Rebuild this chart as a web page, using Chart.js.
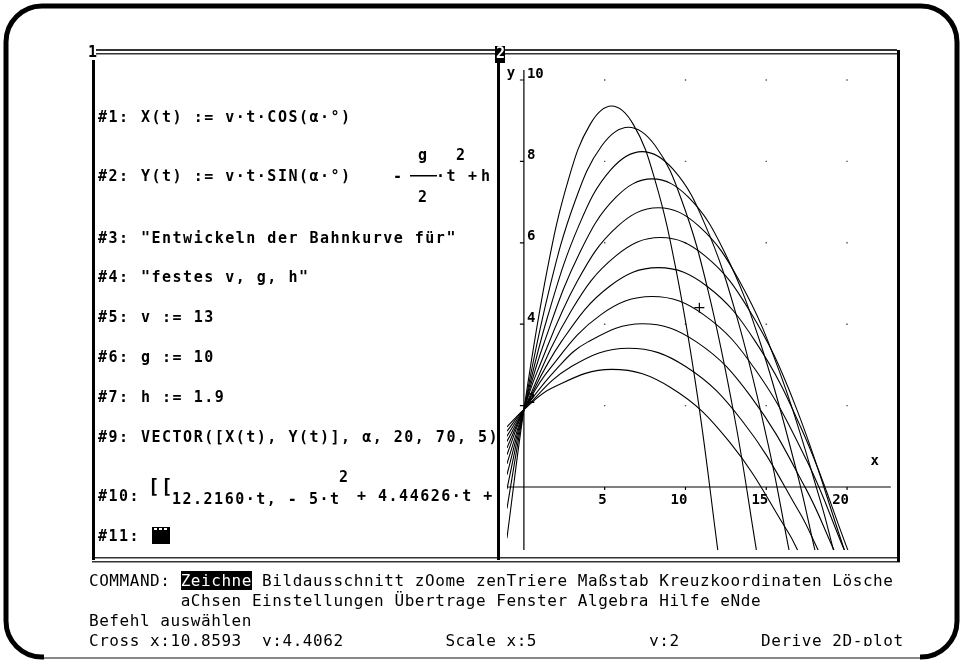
<!DOCTYPE html>
<html>
<head>
<meta charset="utf-8">
<script src="https://cdn.jsdelivr.net/npm/chart.js@4.4.1/dist/chart.umd.min.js"></script>
<style>
  body { margin: 0; background: #fff; width: 964px; height: 664px; position: relative; overflow: hidden; }
  canvas { position: absolute; }
  .alg { position: absolute; white-space: pre; font: bold 15px "DejaVu Sans Mono", monospace; letter-spacing: 1.5px; line-height: 15px; color: #000; }
  .cmd { position: absolute; white-space: pre; font: 16px "DejaVu Sans Mono", monospace; letter-spacing: 0.55px; line-height: 16px; color: #000; }
  .hi { background: #000; color: #fff; }
</style>
</head>
<body>
<canvas id="frame" width="964" height="664" style="left:0;top:0"></canvas>
<canvas id="plot" width="397" height="506" style="left:500px;top:52px"></canvas>
<div id="status" style="position:absolute;left:0;top:633px;width:964px;height:13px;overflow:hidden"></div>
<script>
// Bahnkurven fuer alpha = 20..70 (Schritt 5), v = 13, g = 10, h = 1.9
const angles = [20, 25, 30, 35, 40, 45, 50, 55, 60, 65, 70];

const x20 = [-1.05, 0, 1.77, 5.43, 9.10, 12.76, 16.43, 16.94];
const y20 = [1.48, 1.9, 2.44, 2.89, 2.44, 1.09, -1.16, -1.55];
const x25 = [-1.05, 0, 2.94, 6.47, 10.01, 13.54, 17.08, 18.21];
const y25 = [1.37, 1.9, 2.96, 3.41, 2.96, 1.61, -0.64, -1.55];
const x30 = [-1.05, 0, 1.97, 3.94, 7.32, 10.70, 14.07, 17.45, 19.19];
const y30 = [1.25, 1.9, 2.88, 3.56, 4.01, 3.56, 2.21, -0.04, -1.55];
const x35 = [-1.05, 0, 1.55, 4.75, 7.94, 11.14, 14.33, 17.53, 19.83];
const y35 = [1.12, 1.9, 2.88, 4.23, 4.68, 4.23, 2.88, 0.63, -1.55];
const x40 = [-1.05, 0, 2.35, 5.33, 8.32, 11.31, 14.30, 17.28, 20.05];
const y40 = [0.96, 1.9, 3.59, 4.94, 5.39, 4.94, 3.59, 1.34, -1.55];
const x45 = [-1.05, 0, 2.93, 5.69, 8.45, 11.21, 13.97, 16.72, 19.84];
const y45 = [0.79, 1.9, 4.33, 5.68, 6.13, 5.68, 4.33, 2.08, -1.55];
const x50 = [-1.05, 0, 0.80, 3.31, 5.81, 8.32, 10.83, 13.34, 15.84, 18.35, 19.16];
const y50 = [0.57, 1.9, 2.81, 5.06, 6.41, 6.86, 6.41, 5.06, 2.81, -0.34, -1.55];
const x55 = [-1.05, 0, 1.23, 3.47, 5.70, 7.94, 10.18, 12.42, 14.65, 16.89, 18.01];
const y55 = [0.30, 1.9, 3.52, 5.77, 7.12, 7.57, 7.12, 5.77, 3.52, 0.37, -1.55];
const x60 = [-1.05, 0, 1.47, 3.42, 5.37, 7.32, 9.27, 11.22, 13.17, 15.12, 16.41];
const y60 = [-0.05, 1.9, 4.19, 6.44, 7.79, 8.24, 7.79, 6.44, 4.19, 1.04, -1.55];
const x65 = [-1.05, 0, 1.53, 3.18, 4.83, 6.47, 8.12, 9.77, 11.42, 13.07, 14.39];
const y65 = [-0.53, 1.9, 4.79, 7.04, 8.39, 8.84, 8.39, 7.04, 4.79, 1.64, -1.55];
const x70 = [-1.05, 0, 1.43, 2.76, 4.10, 5.43, 6.77, 8.10, 9.43, 10.77, 12.00];
const y70 = [-1.26, 1.9, 5.31, 7.56, 8.91, 9.36, 8.91, 7.56, 5.31, 2.16, -1.55];

const xTicks = [5, 10, 15, 20];
const yTicks = [2, 4, 6, 8, 10];
const crossX = 10.8593;
const crossY = 4.4062;

const bahnen = [[x20, y20], [x25, y25], [x30, y30], [x35, y35], [x40, y40], [x45, y45],
                [x50, y50], [x55, y55], [x60, y60], [x65, y65], [x70, y70]];

// --- Rahmen (Derive-Fenster) ---
const f = document.getElementById('frame').getContext('2d');
f.lineWidth = 5;
f.strokeStyle = '#000';
f.beginPath();
f.roundRect(6, 6, 951, 651, 36);
f.stroke();
f.fillStyle = '#fff';
f.fillRect(44, 652, 876, 10);
f.fillStyle = '#888';
f.fillRect(44, 657, 876, 2);
f.fillStyle = '#333';
f.fillRect(96, 49, 801, 2);
f.fillRect(96, 53, 801, 1.5);
f.fillRect(92, 557, 808, 1.5);
f.fillRect(92, 561, 808, 1.5);
f.fillStyle = '#000';
f.fillRect(92, 60, 3, 500);
f.fillRect(497, 60, 3, 500);
f.fillRect(897, 50, 3, 512);
f.fillRect(495, 46, 10, 17);
f.font = 'bold 15px "DejaVu Sans Mono"';
f.textBaseline = 'middle';
f.fillText('1', 88, 53);
f.fillStyle = '#fff';
f.fillText('2', 496, 54);
f.fillStyle = '#000';
f.fillRect(410, 175, 27, 1.5);        // Bruchstrich in #2
f.fillRect(152, 527, 18, 17);        // Cursor #11
f.fillStyle = '#fff';
[154, 159, 164].forEach(px => f.fillRect(px, 528, 3, 2));

// --- Algebra-Fenster ---
function put(s, x, yc, cls, size, parent) {
  const d = document.createElement('div');
  d.className = cls;
  d.textContent = s;
  if (size) { d.style.fontSize = size + 'px'; d.style.lineHeight = size + 'px'; }
  d.style.left = x + 'px';
  d.style.top = (yc - 0.48 * (size || (cls === 'cmd' ? 16 : 15))) + 'px';
  (parent || document.body).appendChild(d);
  return d;
}
put('#1:', 98, 117, 'alg');  put('X(t) := v·t·COS(α·°)', 141, 117, 'alg');
put('#2:', 98, 176, 'alg');  put('Y(t) := v·t·SIN(α·°)', 141, 176, 'alg');
put('-', 393, 176, 'alg');
put('g', 418, 155, 'alg');   put('2', 418, 197, 'alg');
put('·t', 436, 176, 'alg');  put('2', 456, 155, 'alg');
put('+', 468, 176, 'alg');   put('h', 481, 176, 'alg');
put('#3:', 98, 238, 'alg');  put('"Entwickeln der Bahnkurve für"', 141, 238, 'alg');
put('#4:', 98, 277, 'alg');  put('"festes v, g, h"', 141, 277, 'alg');
put('#5:', 98, 317, 'alg');  put('v := 13', 141, 317, 'alg');
put('#6:', 98, 357, 'alg');  put('g := 10', 141, 357, 'alg');
put('#7:', 98, 397, 'alg');  put('h := 1.9', 141, 397, 'alg');
put('#9:', 98, 437, 'alg');  put('VECTOR([X(t), Y(t)], α, 20, 70, 5)', 141, 437, 'alg');
put('#10:', 98, 496, 'alg'); put('[[', 148, 486, 'alg', 19);
put('12.2160·t, - 5·t', 172, 499, 'alg'); put('2', 339, 477, 'alg');
put('+ 4.44626·t +', 357, 496, 'alg');
put('#11:', 98, 536, 'alg');

// --- Befehlszeilen ---
const cmd1 = put('COMMAND: ', 89, 581, 'cmd');
const hi = document.createElement('span'); hi.className = 'hi'; hi.textContent = 'Zeichne';
cmd1.appendChild(hi);
cmd1.appendChild(document.createTextNode(' Bildausschnitt zOome zenTriere Maßstab Kreuzkoordinaten Lösche'));
put('         aChsen Einstellungen Übertrage Fenster Algebra Hilfe eNde', 89, 601, 'cmd');
put('Befehl auswählen', 89, 621, 'cmd');
put('Cross x:' + crossX + '  y:' + crossY + '          Scale x:' + xTicks[0] +
    '           y:' + yTicks[0] + '        Derive 2D-plot', 89, 8, 'cmd', 0, document.getElementById('status'));

// --- Achsen durch den Ursprung ---
const axesPlugin = {
  id: 'deriveAxes',
  beforeDatasetsDraw(chart) {
    const { ctx, chartArea: a, scales: { x, y } } = chart;
    const x0 = x.getPixelForValue(0), y0 = y.getPixelForValue(0);
    ctx.save();
    ctx.strokeStyle = '#000';
    ctx.lineWidth = 1.2;
    ctx.beginPath();
    ctx.moveTo(a.left, y0); ctx.lineTo(a.right, y0);
    ctx.moveTo(x0, a.top); ctx.lineTo(x0, a.bottom);
    xTicks.forEach(v => { const p = x.getPixelForValue(v); ctx.moveTo(p, y0); ctx.lineTo(p, y0 + 3); });
    yTicks.forEach(v => { const p = y.getPixelForValue(v); ctx.moveTo(x0 - 4, p); ctx.lineTo(x0, p); });
    ctx.stroke();
    ctx.fillStyle = '#000';
    ctx.font = 'bold 14px "DejaVu Sans Mono"';
    ctx.textBaseline = 'middle';
    ctx.textAlign = 'right';
    xTicks.forEach(v => ctx.fillText(String(v), x.getPixelForValue(v) + 2, y0 + 13));
    ctx.textAlign = 'left';
    yTicks.forEach(v => ctx.fillText(String(v), x0 + 3, y.getPixelForValue(v) - 6));
    ctx.textAlign = 'center';
    ctx.fillText('y', x0 - 13, y.getPixelForValue(10) - 7);
    ctx.fillText('x', a.right - 16, y0 - 26);
    ctx.restore();
  }
};

const gridDots = [];
xTicks.forEach(gx => yTicks.forEach(gy => gridDots.push({ x: gx, y: gy })));

const datasets = bahnen.map(([xs, ys], i) => ({
  label: 'α = ' + angles[i] + '°',
  data: xs.map((v, k) => ({ x: v, y: ys[k] })),
  borderColor: '#000',
  borderWidth: 1.1,
  pointRadius: 0,
  tension: 0.4,
  fill: false
}));
datasets.push({
  label: 'Raster',
  data: gridDots,
  showLine: false,
  pointStyle: 'rect',
  pointRadius: 1,
  backgroundColor: '#555',
  borderWidth: 0
});
datasets.push({
  label: 'Cross',
  data: [{ x: crossX, y: crossY }],
  showLine: false,
  pointStyle: 'cross',
  pointRadius: 5,
  borderColor: '#000',
  borderWidth: 1.2
});

new Chart(document.getElementById('plot').getContext('2d'), {
  type: 'line',
  data: { datasets },
  plugins: [axesPlugin],
  options: {
    responsive: false,
    animation: false,
    devicePixelRatio: 1,
    layout: { padding: { left: 7, right: 4, top: 18, bottom: 8 } },
    elements: { line: { capBezierPoints: false } },
    scales: {
      x: { type: 'linear', min: -1.046, max: 22.708, display: false },
      y: { type: 'linear', min: -1.548, max: 10.246, display: false }
    },
    plugins: { legend: { display: false }, tooltip: { enabled: false } }
  }
});
</script>
</body>
</html>
